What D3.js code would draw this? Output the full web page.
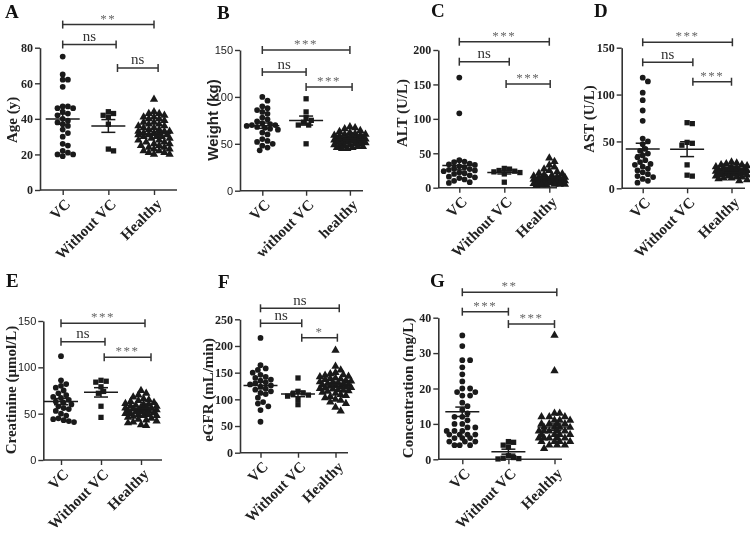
<!DOCTYPE html>
<html><head><meta charset="utf-8">
<script src="https://cdn.jsdelivr.net/npm/d3@7"></script>
<style>body{margin:0;background:#fff} svg{display:block}</style>
</head><body><svg id="c" width="750" height="534">
<defs><filter id="gs" filterUnits="userSpaceOnUse" x="0" y="0" width="750" height="534"><feOffset dx="0" dy="0"/></filter></defs>
</svg>
<script>
// ---------- data ----------
const catsMain = ["VC", "Without VC", "Healthy"];
const catsB = ["VC", "without VC", "healthy"];

const ageVC = [75, 65, 62, 62, 58, 47, 47, 46, 46, 44, 43, 42, 40, 39, 38, 37, 36, 34, 32, 30, 26, 25, 22, 21, 20, 20, 19];
const ageWithoutVC = [44, 43, 42, 41, 37, 23, 22];
const ageHealthy = [51, 44, 43, 43, 42, 41, 41, 40, 40, 39, 38, 38, 37, 37, 36, 36, 35, 35, 34, 34, 33, 33, 33, 32, 32, 32, 31, 31, 31, 30, 30, 30, 29, 29, 28, 28, 27, 27, 26, 26, 25, 25, 24, 24, 23, 23, 22, 22, 21, 21, 20, 20];

const weightVC = [100, 96, 90, 88, 86, 84, 82, 78, 76, 74, 72, 71, 70, 70, 69, 68, 67, 66, 65, 62, 60, 55, 53, 52, 50, 48, 46, 43];
const weightWithoutVC = [98, 84, 78, 75, 73, 70, 70, 50];
const weightHealthy = [68, 67, 66, 64, 63, 62, 61, 60, 60, 59, 59, 58, 58, 57, 57, 57, 56, 56, 56, 55, 55, 55, 54, 54, 54, 53, 53, 53, 52, 52, 51, 51, 50, 50, 49, 49, 48, 48, 47, 47, 46, 46, 45, 45];

const altVC = [160, 108, 40, 38, 37, 35, 34, 33, 31, 30, 28, 27, 26, 25, 24, 22, 21, 20, 18, 16, 15, 14, 12, 10, 8, 7];
const altWithoutVC = [28, 27, 25, 24, 23, 22, 20, 8];
const altHealthy = [43, 38, 33, 30, 27, 25, 23, 21, 20, 19, 18, 17, 16, 15, 15, 14, 14, 13, 13, 12, 12, 11, 11, 10, 10, 10, 9, 9, 9, 8, 8, 8, 7, 7, 7, 6, 6, 6, 5, 5, 5, 4, 4, 3];

const astVC = [118, 114, 102, 94, 83, 72, 53, 50, 47, 42, 40, 37, 35, 33, 30, 28, 26, 25, 23, 21, 19, 17, 15, 13, 12, 10, 8, 6];
const astWithoutVC = [70, 69, 49, 48, 46, 25, 14, 13];
const astHealthy = [28, 27, 26, 25, 25, 24, 23, 23, 22, 22, 21, 21, 20, 20, 20, 19, 19, 19, 18, 18, 18, 17, 17, 17, 16, 16, 16, 15, 15, 15, 14, 14, 13, 13, 12, 12, 11, 11, 10, 9, 8];

const creaVC = [112, 86, 82, 80, 78, 75, 72, 70, 68, 67, 65, 63, 62, 60, 58, 56, 55, 53, 50, 48, 45, 44, 43, 42, 41];
const creaWithoutVC = [86, 85, 84, 79, 74, 72, 58, 46];
const creaHealthy = [75, 72, 70, 68, 66, 65, 64, 63, 62, 61, 60, 60, 59, 58, 58, 57, 57, 56, 56, 55, 55, 54, 54, 53, 53, 52, 52, 51, 51, 50, 50, 49, 49, 48, 48, 47, 46, 45, 44, 43, 42, 41, 40, 38, 37];

const egfrVC = [215, 164, 158, 155, 150, 146, 142, 140, 137, 135, 132, 130, 128, 126, 124, 120, 118, 115, 112, 110, 103, 95, 92, 87, 80, 58];
const egfrWithoutVC = [140, 115, 112, 110, 108, 106, 100, 90];
const egfrHealthy = [192, 162, 155, 150, 148, 146, 145, 143, 142, 140, 139, 138, 137, 135, 134, 133, 132, 131, 130, 129, 128, 127, 126, 125, 124, 123, 122, 121, 120, 119, 118, 117, 116, 115, 113, 111, 109, 107, 105, 103, 100, 98, 95, 92, 85, 78];

const concVC = [35, 32, 28, 28, 26, 24, 22, 20, 20, 19, 19, 18, 18, 16, 15, 14, 13, 12, 12, 11, 10, 10, 9, 9, 8, 8, 8, 7, 7, 7, 7, 6, 6, 6, 5, 5, 5, 4, 4, 4];
const concWithoutVC = [5, 4.8, 4, 3.5, 1, 0.5, 0.3, 0.2, 0.1];
const concHealthy = [35, 25, 13, 13, 12, 12, 12, 11, 11, 11, 10, 10, 10, 10, 9, 9, 9, 9, 8, 8, 8, 8, 8, 7, 7, 7, 7, 6, 6, 6, 6, 6, 5, 5, 5, 5, 4, 4, 4, 3];

// significance labels
const sigA = ["**", "ns", "ns"];
const sigB = ["***", "ns", "***"];
const sigC = ["***", "ns", "***"];
const sigD = ["***", "ns", "***"];
const sigE = ["***", "ns", "***"];
const sigF = ["ns", "ns", "*"];
const sigG = ["**", "***", "***"];

// ---------- layout ----------
const SERIF = "'Liberation Serif','Times New Roman',serif";
const SANS = "'Liberation Sans',Arial,sans-serif";

const panels = [
  {letter:"A", lx:5, ly:18, cats:catsMain, groups:[ageVC, ageWithoutVC, ageHealthy], sig:sigA,
   axisX:40, xEnd:177, y0:190, yTop:47.7, max:80, step:20, c0:62.7, c2:154,
   tickFont:SERIF, labFont:SERIF, ylabel:"Age (y)", ylx:12, yly:120,
   br:[[0,2,93],[0,1.17,81.8],[1.2,2.09,68.6]]},
  {letter:"B", lx:217, ly:19, cats:catsB, groups:[weightVC, weightWithoutVC, weightHealthy], sig:sigB,
   axisX:240, xEnd:363, y0:190.7, yTop:50, max:150, step:50, c0:262.3, c2:349.9,
   tickFont:SANS, labFont:SANS, ylabel:"Weight (kg)", ylx:212, yly:120,
   br:[[0,2,150],[0,1,126.5],[1,2.05,110.5]]},
  {letter:"C", lx:431, ly:17, cats:catsMain, groups:[altVC, altWithoutVC, altHealthy], sig:sigC,
   axisX:438.3, xEnd:557, y0:187.7, yTop:50, max:200, step:50, c0:459.3, c2:549.3,
   tickFont:SERIF, labFont:SERIF, ylabel:"ALT (U/L)", ylx:402, yly:113,
   br:[[0,2,212],[0,1.11,183],[1.04,2.02,150.6]]},
  {letter:"D", lx:594, ly:17, cats:catsMain, groups:[astVC, astWithoutVC, astHealthy], sig:sigD,
   axisX:621.7, xEnd:745, y0:188.3, yTop:47.7, max:150, step:50, c0:642.7, c2:731.5,
   tickFont:SERIF, labFont:SERIF, ylabel:"AST (U/L)", ylx:589, yly:119,
   br:[[0,2.02,155.8],[0,1.13,134.4],[1.13,2.0,113.7]]},
  {letter:"E", lx:6, ly:287, cats:catsMain, groups:[creaVC, creaWithoutVC, creaHealthy], sig:sigE,
   axisX:43.3, xEnd:162, y0:460, yTop:321, max:150, step:50, c0:61, c2:141,
   tickFont:SANS, labFont:SERIF, ylabel:"Creatinine (\u03bcmol/L)", ylx:11, yly:390,
   br:[[0,2.1,147.5],[0,1.1,127.7],[1.08,2.25,110.8]]},
  {letter:"F", lx:218, ly:288, cats:catsMain, groups:[egfrVC, egfrWithoutVC, egfrHealthy], sig:sigF,
   axisX:240, xEnd:348, y0:452.7, yTop:319.3, max:250, step:50, c0:260.5, c2:335.5,
   tickFont:SERIF, labFont:SERIF, ylabel:"eGFR (mL/min)", ylx:208, yly:390,
   br:[[0,2.1,270.6],[0,1.1,242.5],[1.1,2.05,215.5]]},
  {letter:"G", lx:430, ly:287, cats:catsMain, groups:[concVC, concWithoutVC, concHealthy], sig:sigG,
   axisX:438.3, xEnd:562, y0:459.3, yTop:317.7, max:40, step:10, c0:462.3, c2:554.5,
   tickFont:SERIF, labFont:SERIF, ylabel:"Concentration (mg/L)", ylx:408, yly:388,
   br:[[0,2.05,47.2],[0,1,41.7],[1,2,38.2]]}
];

const svg = d3.select("#c");
const root = svg.append("g").attr("filter", "url(#gs)");
const INK = "#1a1a1a", AX = "#333";
const symbols = [d3.symbolCircle, d3.symbolSquare, d3.symbolTriangle];
const symSize = [26, 28, 30];

function swarm(values, y, cx, d, maxW) {
  const order = values.map((v, i) => i).sort((a, b) => values[b] - values[a]);
  const placed = [], out = new Array(values.length);
  const s = d / 2;
  for (const i of order) {
    const py = y(values[i]);
    let best = 0, bestDist = -1;
    for (let k = 0; k < 60; k++) {
      const off = (k % 2 === 1 ? 1 : -1) * Math.ceil(k / 2) * s;
      if (Math.abs(off) > maxW) break;
      let md = Infinity;
      for (const p of placed) {
        const dd = Math.hypot(p[0] - (cx + off), p[1] - py);
        if (dd < md) md = dd;
      }
      if (md >= d) { best = off; bestDist = md; break; }
      if (md > bestDist) { bestDist = md; best = off; }
    }
    placed.push([cx + best, py]);
    out[i] = [cx + best, py];
  }
  return out;
}

panels.forEach(p => {
  const g = root.append("g");
  const y = d3.scaleLinear().domain([0, p.max]).range([p.y0, p.yTop]);
  const x = d3.scaleLinear().domain([0, 2]).range([p.c0, p.c2]);

  // panel letter
  g.append("text").attr("x", p.lx).attr("y", p.ly).text(p.letter)
    .attr("font-family", SERIF).attr("font-weight", "bold").attr("font-size", 19).attr("fill", "#111");

  // y axis
  const ya = d3.axisLeft(y).tickValues(d3.range(0, p.max + 0.001, p.step)).tickSize(5).tickSizeOuter(0).tickPadding(2);
  const yg = g.append("g").attr("transform", `translate(${p.axisX},0)`).call(ya);
  yg.select(".domain").attr("stroke", AX).attr("stroke-width", 1.6);
  yg.selectAll(".tick line").attr("stroke", AX).attr("stroke-width", 1.4);
  yg.selectAll(".tick text").attr("font-family", p.tickFont)
    .attr("font-weight", p.tickFont === SERIF ? "bold" : "normal")
    .attr("font-size", p.tickFont === SERIF ? 12 : 11).attr("fill", "#222");

  // x axis
  g.append("line").attr("x1", p.axisX).attr("x2", p.xEnd).attr("y1", p.y0).attr("y2", p.y0)
    .attr("stroke", AX).attr("stroke-width", 1.6);
  const xa = d3.axisBottom(x).tickValues([0, 1, 2]).tickFormat(i => p.cats[i]).tickSize(5).tickSizeOuter(0);
  const xg = g.append("g").attr("transform", `translate(0,${p.y0})`).call(xa);
  xg.select(".domain").remove();
  xg.selectAll(".tick line").attr("stroke", AX).attr("stroke-width", 1.4);
  xg.selectAll(".tick text")
    .attr("font-family", SERIF).attr("font-weight", "bold").attr("font-size", 15).attr("fill", "#222")
    .attr("text-anchor", "end").attr("dy", null).attr("y", 0)
    .attr("transform", "translate(8,15) rotate(-45)");

  // y label
  g.append("text").attr("transform", `translate(${p.ylx},${p.yly}) rotate(-90)`)
    .attr("text-anchor", "middle").attr("dominant-baseline", "central")
    .attr("font-family", p.labFont).attr("font-weight", "bold").attr("font-size", 15).attr("fill", "#222")
    .text(p.ylabel);

  // points
  p.groups.forEach((vals, gi) => {
    const pos = swarm(vals, y, x(gi), 5.2, 17);
    g.append("g").selectAll("path").data(vals).join("path")
      .attr("d", d3.symbol().type(symbols[gi]).size(symSize[gi]))
      .attr("transform", (d, i) => `translate(${pos[i][0]},${pos[i][1]})`)
      .attr("fill", INK);
    // mean +- SEM
    const m = d3.mean(vals), sem = d3.deviation(vals) / Math.sqrt(vals.length);
    const cx = x(gi);
    const lg = g.append("g").attr("stroke", INK).attr("stroke-width", 1.5);
    lg.append("line").attr("x1", cx - 17).attr("x2", cx + 17).attr("y1", y(m)).attr("y2", y(m));
    lg.append("line").attr("x1", cx).attr("x2", cx).attr("y1", y(m + sem)).attr("y2", y(m - sem));
    lg.append("line").attr("x1", cx - 7).attr("x2", cx + 7).attr("y1", y(m + sem)).attr("y2", y(m + sem));
    lg.append("line").attr("x1", cx - 7).attr("x2", cx + 7).attr("y1", y(m - sem)).attr("y2", y(m - sem));
  });

  // significance brackets
  p.br.forEach((b, bi) => {
    const x1 = x(b[0]), x2 = x(b[1]), yy = y(b[2]);
    const bg = g.append("g").attr("stroke", "#333").attr("stroke-width", 1.5);
    bg.append("line").attr("x1", x1).attr("x2", x2).attr("y1", yy).attr("y2", yy);
    bg.append("line").attr("x1", x1).attr("x2", x1).attr("y1", yy - 4).attr("y2", yy + 4);
    bg.append("line").attr("x1", x2).attr("x2", x2).attr("y1", yy - 4).attr("y2", yy + 4);
    const lab = p.sig[bi];
    const isNs = lab === "ns";
    g.append("text").attr("x", (x1 + x2) / 2).attr("y", isNs ? yy - 3.5 : yy - 2)
      .attr("text-anchor", "middle")
      .attr("font-family", SERIF).attr("font-size", isNs ? 15 : 13)
      .attr("letter-spacing", isNs ? 0 : 1.5)
      .attr("fill", isNs ? "#333" : "#666").text(lab);
  });
});
</script></body></html>
